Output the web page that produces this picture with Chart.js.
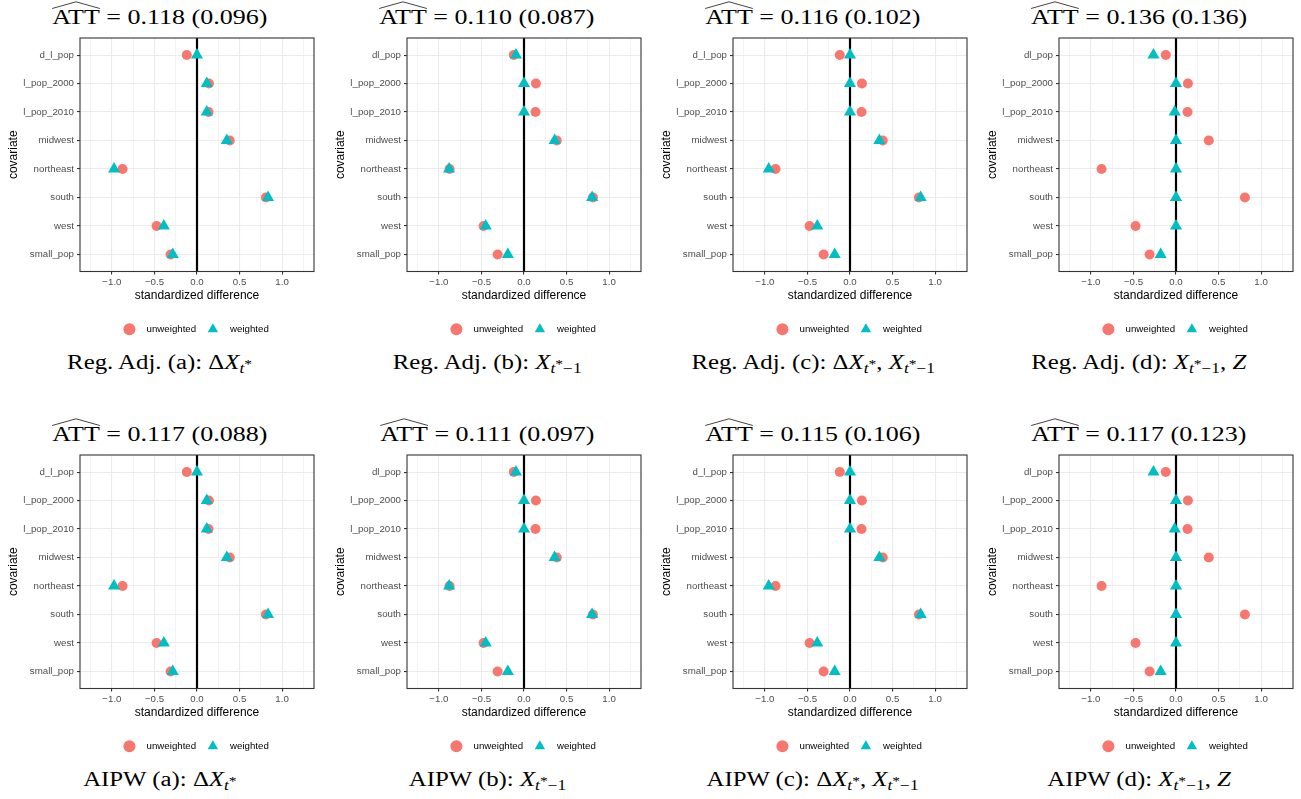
<!DOCTYPE html>
<html>
<head>
<meta charset="utf-8">
<script src="https://cdn.jsdelivr.net/npm/chart.js@4.4.1/dist/chart.umd.min.js"></script>
<style>
    body { margin: 0; background: #fff; }
    #page { position: relative; width: 1301px; height: 799px; overflow: hidden; }
    canvas { position: absolute; }
    .txt { position: absolute; width: 320px; text-align: center; white-space: nowrap;
           font-family: "Liberation Serif", "Times New Roman", serif; font-size: 20px; line-height: 24px; color: #000; }
    .txt > span { display: inline-block; }
    .title > span { transform: scaleX(1.3); }
    .caption > span { transform: scaleX(1.24); }
    .hat { position: relative; display: inline-block; }
    .hat svg { position: absolute; left: 0; top: -4px; width: 100%; height: 8px; overflow: visible; }
    .sb { font-size: 0.7em; position: relative; top: 0.3em; }
    .st { position: relative; top: -0.4em; font-size: 0.9em; }
</style>
</head>
<body>
<div id="page"></div>
<script>
// Covariate names (top to bottom)
const covariatesA = ['d_l_pop', 'l_pop_2000', 'l_pop_2010', 'midwest', 'northeast', 'south', 'west', 'small_pop'];
const covariatesB = ['dl_pop', 'l_pop_2000', 'l_pop_2010', 'midwest', 'northeast', 'south', 'west', 'small_pop'];

// Standardized differences before weighting (same in every panel)
const unweighted = [-0.12, 0.14, 0.135, 0.385, -0.875, 0.81, -0.475, -0.31];

// After weighting, specifications (a) - (d)
const weightedA = [0.0, 0.115, 0.115, 0.35, -0.975, 0.835, -0.39, -0.285];
const weightedB = [-0.095, 0.0, 0.0, 0.36, -0.88, 0.80, -0.45, -0.19];
const weightedC = [0.0, 0.0, 0.0, 0.345, -0.955, 0.83, -0.385, -0.18];
const weightedD = [-0.265, 0.0, -0.015, 0.0, 0.0, 0.0, 0.0, -0.18];

// Axis ticks
const xTicks = [-1, -0.5, 0, 0.5, 1];
const xTickLabels = ['\u22121.0', '\u22120.5', '0.0', '0.5', '1.0'];
const xMinorTicks = [-1.25, -0.75, -0.25, 0.25, 0.75, 1.25];

// ATT estimates (standard errors)
const attRegAdj = ['0.118', '0.110', '0.116', '0.136'];
const seRegAdj = ['0.096', '0.087', '0.102', '0.136'];
const attAipw = ['0.117', '0.111', '0.115', '0.117'];
const seAipw = ['0.088', '0.097', '0.106', '0.123'];

const methods = ['Reg. Adj.', 'AIPW'];
const specLetters = ['(a)', '(b)', '(c)', '(d)'];

const X_MIN = -1.375, X_MAX = 1.375;
const Y_MIN = -0.6, Y_MAX = 7.6;

const colLeft = [0, 327, 653, 979];
const rowTop = [0, 417];

Chart.defaults.font.family = '"Liberation Sans", Arial, sans-serif';
Chart.defaults.color = '#000';

// Caption pieces
const dX = '\u0394<i>X</i><span class="sb"><i>t</i><span class="st">*</span></span>';
const Xl = '<i>X</i><span class="sb"><i>t</i><span class="st">*</span>\u22121</span>';
const specText = [dX, Xl, dX + ', ' + Xl, Xl + ', <i>Z</i>'];

// Panel border drawn on top like ggplot's theme_bw
const panelBorder = {
    id: 'panelBorder',
    afterDatasetsDraw(chart) {
        const a = chart.chartArea;
        const ctx = chart.ctx;
        ctx.save();
        ctx.strokeStyle = '#333333';
        ctx.lineWidth = 1.1;
        ctx.strokeRect(a.left, a.top, a.right - a.left, a.bottom - a.top);
        ctx.restore();
    }
};

function isMajor(ctx) {
    return ctx.tick && xTicks.includes(ctx.tick.value);
}

function makePanel(row, col) {
    const page = document.getElementById('page');
    const covs = (col === 1 || col === 3) ? covariatesB : covariatesA;
    const weighted = [weightedA, weightedB, weightedC, weightedD][col];
    const est = row === 0 ? attRegAdj[col] : attAipw[col];
    const se = row === 0 ? seRegAdj[col] : seAipw[col];

    // title
    const title = document.createElement('div');
    title.className = 'txt title';
    title.style.left = colLeft[col] + 'px';
    title.style.top = (rowTop[row] + 5) + 'px';
    title.innerHTML = '<span><span class="hat">ATT<svg viewBox="0 0 100 8" preserveAspectRatio="none">' +
        '<polyline points="0,7.5 50,0.8 100,7.5" fill="none" stroke="#000" stroke-width="1"/></svg></span>' +
        ' = ' + est + ' (' + se + ')</span>';
    page.appendChild(title);

    // caption
    const cap = document.createElement('div');
    cap.className = 'txt caption';
    cap.style.left = colLeft[col] + 'px';
    cap.style.top = (rowTop[row] + 350) + 'px';
    cap.innerHTML = '<span>' + methods[row] + ' ' + specLetters[col] + ': ' + specText[col] + '</span>';
    page.appendChild(cap);

    const canvas = document.createElement('canvas');
    canvas.width = 326;
    canvas.height = 310;
    canvas.style.width = '326px';
    canvas.style.height = '310px';
    canvas.style.left = colLeft[col] + 'px';
    canvas.style.top = (rowTop[row] + 34) + 'px';
    page.appendChild(canvas);

    new Chart(canvas, {
        type: 'scatter',
        data: {
            datasets: [
                {
                    label: 'unweighted',
                    data: unweighted.map((v, i) => ({ x: v, y: i })),
                    pointStyle: 'circle',
                    pointRadius: 5,
                    pointHoverRadius: 5,
                    backgroundColor: '#F8766D',
                    borderColor: '#F8766D',
                    borderWidth: 0,
                    order: 2
                },
                {
                    label: 'weighted',
                    data: weighted.map((v, i) => ({ x: v, y: i })),
                    pointStyle: 'triangle',
                    pointRadius: 7,
                    pointHoverRadius: 7,
                    backgroundColor: '#00BFC4',
                    borderColor: '#00BFC4',
                    borderWidth: 0,
                    order: 1
                },
                {
                    label: 'zero',
                    data: [{ x: 0, y: Y_MIN }, { x: 0, y: Y_MAX }],
                    showLine: true,
                    pointRadius: 0,
                    borderColor: '#000',
                    borderWidth: 2.2,
                    order: 3
                }
            ]
        },
        options: {
            responsive: false,
            animation: false,
            events: [],
            layout: { autoPadding: false, padding: { top: 4, right: 12, left: 0, bottom: 0 } },
            scales: {
                x: {
                    type: 'linear',
                    min: X_MIN,
                    max: X_MAX,
                    afterBuildTicks: s => {
                        s.ticks = xTicks.concat(xMinorTicks).sort((a, b) => a - b).map(v => ({ value: v }));
                    },
                    afterFit: s => {
                        s.height = 40.3;
                        s.paddingLeft = 0;
                        s.paddingRight = 0;
                    },
                    ticks: {
                        autoSkip: false,
                        maxRotation: 0,
                        padding: 2,
                        color: '#4D4D4D',
                        font: { size: 9.7 },
                        callback: value => {
                            const i = xTicks.indexOf(value);
                            return i >= 0 ? xTickLabels[i] : '';
                        }
                    },
                    grid: {
                        color: '#EBEBEB',
                        lineWidth: ctx => isMajor(ctx) ? 1.1 : 0.55,
                        tickLength: 3,
                        tickColor: ctx => isMajor(ctx) ? '#333333' : 'rgba(0,0,0,0)'
                    },
                    border: { display: false },
                    title: {
                        display: true,
                        text: 'standardized difference',
                        color: '#000',
                        font: { size: 12 },
                        padding: { top: 0, bottom: 9.1 }
                    }
                },
                y: {
                    type: 'linear',
                    reverse: true,
                    min: Y_MIN,
                    max: Y_MAX,
                    afterBuildTicks: s => {
                        s.ticks = covs.map((c, i) => ({ value: i }));
                    },
                    afterFit: s => {
                        s.width = 80;
                        s.paddingTop = 0;
                        s.paddingBottom = 0;
                    },
                    ticks: {
                        autoSkip: false,
                        padding: 3,
                        color: '#4D4D4D',
                        font: { size: 9.7 },
                        callback: value => covs[value]
                    },
                    grid: {
                        color: '#EBEBEB',
                        lineWidth: 1.1,
                        tickLength: 3,
                        tickColor: '#333333'
                    },
                    border: { display: false },
                    title: {
                        display: true,
                        text: 'covariate',
                        color: '#000',
                        font: { size: 12 },
                        padding: { top: 6.8, bottom: 0 }
                    }
                }
            },
            plugins: {
                tooltip: { enabled: false },
                legend: {
                    position: 'bottom',
                    fullSize: false,
                    align: 'center',
                    labels: {
                        usePointStyle: true,
                        boxWidth: 8.5,
                        boxHeight: 8.5,
                        padding: 12.5,
                        color: '#000',
                        font: { size: 9.7 },
                        generateLabels: chart => Chart.defaults.plugins.legend.labels.generateLabels(chart)
                            .filter(item => item.datasetIndex < 2)
                            .sort((a, b) => a.datasetIndex - b.datasetIndex)
                            .map(item => Object.assign(item, { text: '   ' + item.text }))
                    }
                }
            }
        },
        plugins: [panelBorder]
    });
}

for (let r = 0; r < 2; r++) {
    for (let c = 0; c < 4; c++) {
        makePanel(r, c);
    }
}
</script>
</body>
</html>
